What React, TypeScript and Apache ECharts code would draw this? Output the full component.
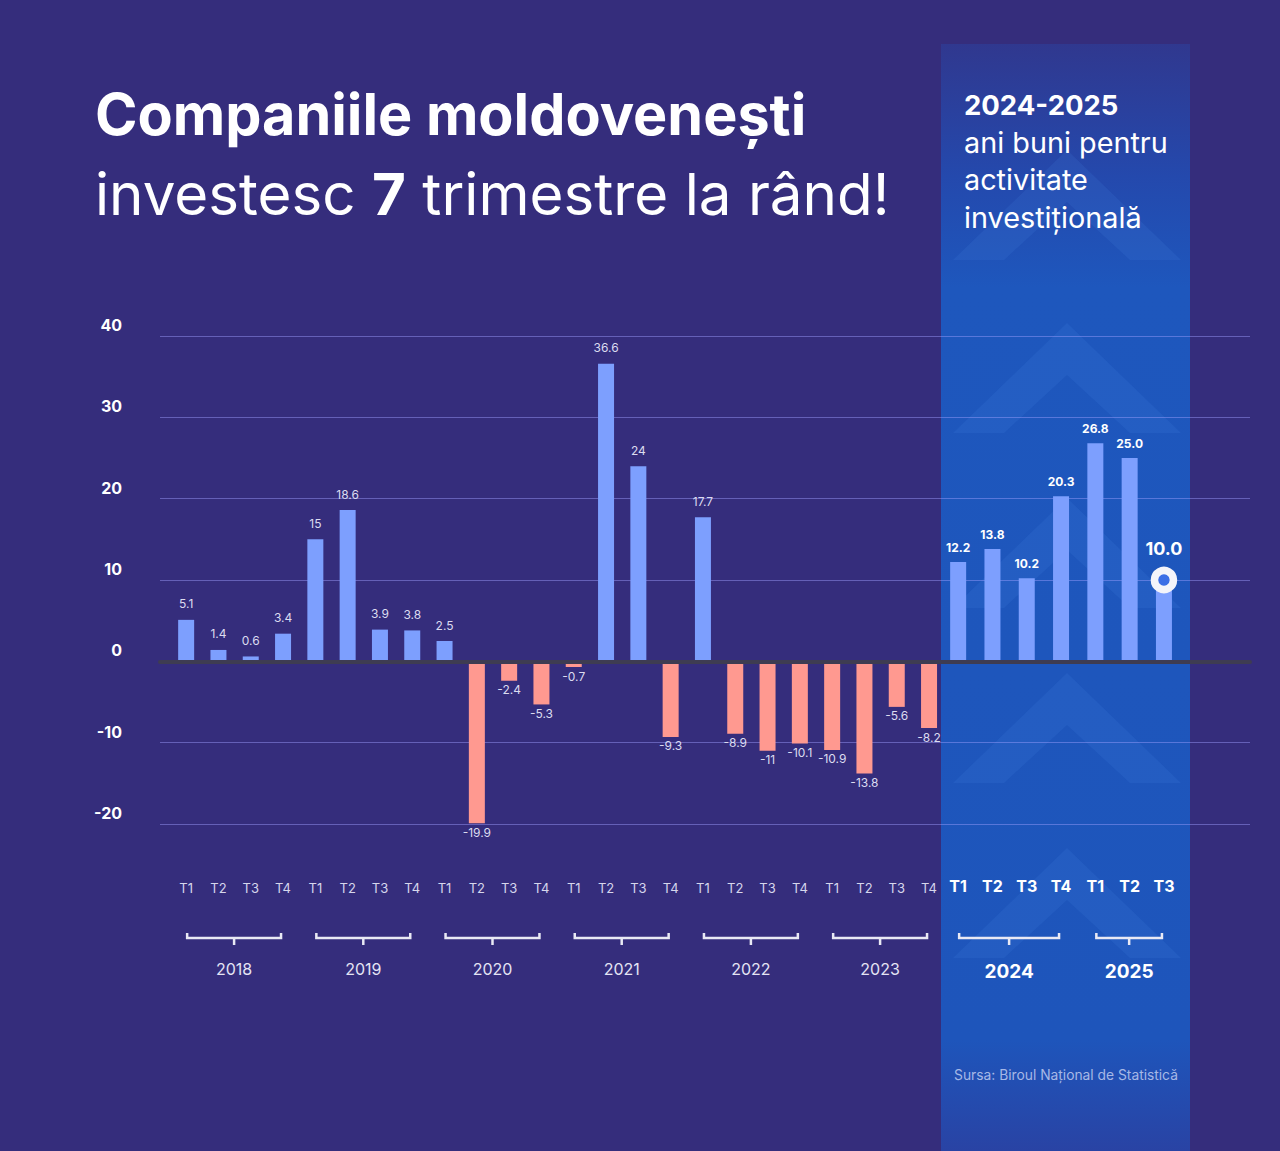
import React, { useEffect, useRef } from "react";
import * as echarts from "echarts";

const quarters = ["T1", "T2", "T3", "T4"];
const pastYears = ["2018", "2019", "2020", "2021", "2022", "2023"];
const pastValues = [
  5.1, 1.4, 0.6, 3.4,
  15, 18.6, 3.9, 3.8,
  2.5, -19.9, -2.4, -5.3,
  -0.7, 36.6, 24, -9.3,
  17.7, -8.9, -11, -10.1,
  -10.9, -13.8, -5.6, -8.2,
];
const recentYears = ["2024", "2025"];
const recentQuarters = ["T1", "T2", "T3", "T4", "T1", "T2", "T3"];
const recentQuarterYear = ["2024", "2024", "2024", "2024", "2025", "2025", "2025"];
const recentValues = [12.2, 13.8, 10.2, 20.3, 26.8, 25.0, 10.0];
const yMin = -20;
const yMax = 40;
const yStep = 10;

const pastCategories = pastYears.flatMap((y) => quarters.map((q) => `${q} ${y}`));
const recentCategories = recentQuarters.map((q, i) => `${q} ${recentQuarterYear[i]}`);
const pastBrackets = pastYears.map((_, i) => [i * 4, i * 4 + 3, 0]);
const recentBrackets = [
  [0, 3, 0],
  [4, 6, 0],
];

const BG = "#352d7c";
const POS = "#7d9ffe";
const NEG = "#ff9990";
const FONT = "Inter";

function bracketRenderer(names: string[], bold: boolean) {
  return (params: any, api: any) => {
    const s = api.coord([api.value(0), 0]);
    const e = api.coord([api.value(1), 0]);
    const bottom = api.coord([api.value(0), yMin])[1];
    const x1 = s[0] + 1;
    const x2 = e[0] - 2;
    const y = bottom + 114;
    const mid = (x1 + x2) / 2;
    const stroke = "#e9e9f4";
    return {
      type: "group",
      children: [
        {
          type: "polyline",
          shape: { points: [[x1, y - 5], [x1, y], [x2, y], [x2, y - 5]] },
          style: { stroke, lineWidth: 2.5, fill: null },
        },
        {
          type: "line",
          shape: { x1: mid, y1: y, x2: mid, y2: y + 7 },
          style: { stroke, lineWidth: 2.5 },
        },
        {
          type: "text",
          x: mid,
          y: bottom + (bold ? 147 : 145),
          style: {
            text: names[params.dataIndex],
            fill: bold ? "#ffffff" : "#e4e4f4",
            fontSize: bold ? 19 : 16,
            fontWeight: bold ? "bold" : "normal",
            fontFamily: FONT,
            align: "center",
            verticalAlign: "middle",
          },
        },
      ],
    };
  };
}

function chevron(apexY: number) {
  const cx = 1067;
  return {
    type: "polygon",
    z: -5,
    silent: true,
    shape: {
      points: [
        [953, apexY + 110],
        [cx, apexY],
        [1181, apexY + 110],
        [1130, apexY + 110],
        [cx, apexY + 52],
        [1004, apexY + 110],
      ],
    },
    style: { fill: "rgba(80,150,240,0.12)" },
  };
}

export default function App() {
  const ref = useRef<HTMLDivElement>(null);

  useEffect(() => {
    if (!ref.current) return;
    const chart = echarts.init(ref.current, null, { renderer: "svg" });

    const gridTop = 336;
    const gridHeight = 488;

    const pastData = pastValues.map((v) => ({
      value: v,
      itemStyle: { color: v >= 0 ? POS : NEG },
      label: v >= 0 ? { position: "top", distance: 10 } : { position: "bottom", distance: 3 },
    }));

    const recentData = recentValues.map((v, i) => ({
      value: v,
      label: i === recentValues.length - 1 ? { show: false } : {},
    }));

    const option: any = {
      animation: false,
      backgroundColor: BG,
      grid: [
        { left: 160, right: 30, top: gridTop, height: gridHeight },
        { left: 170, width: 775.2, top: gridTop, height: gridHeight },
        { left: 941, width: 240.1, top: gridTop, height: gridHeight },
      ],
      xAxis: [
        {
          gridIndex: 0,
          type: "value",
          min: 0,
          max: 1,
          z: 5,
          axisLine: { show: true, onZero: true, lineStyle: { color: "#3e3c52", width: 4 } },
          axisTick: { show: false },
          axisLabel: { show: false },
          splitLine: { show: false },
        },
        {
          gridIndex: 1,
          type: "category",
          data: pastCategories,
          axisLine: { show: false, onZero: false },
          axisTick: { show: false },
          axisLabel: {
            margin: 57,
            interval: 0,
            color: "#d6d6ec",
            fontSize: 13,
            fontFamily: FONT,
            formatter: (v: string) => v.split(" ")[0],
          },
        },
        {
          gridIndex: 2,
          type: "category",
          data: recentCategories,
          axisLine: { show: false, onZero: false },
          axisTick: { show: false },
          axisLabel: {
            margin: 54,
            interval: 0,
            color: "#ffffff",
            fontSize: 16,
            fontWeight: "bold",
            fontFamily: FONT,
            formatter: (v: string) => v.split(" ")[0],
          },
        },
      ],
      yAxis: [
        {
          gridIndex: 0,
          type: "value",
          min: yMin,
          max: yMax,
          interval: yStep,
          axisLine: { show: false },
          axisTick: { show: false },
          axisLabel: {
            color: "#ffffff",
            fontWeight: "bold",
            fontSize: 16,
            fontFamily: FONT,
            margin: 38,
            align: "right",
            verticalAlign: "bottom",
            padding: [0, 0, 3, 0],
          },
          splitLine: { lineStyle: { color: "rgba(160,160,255,0.45)", width: 1 } },
        },
        { gridIndex: 1, type: "value", min: yMin, max: yMax, interval: yStep, show: false, splitLine: { show: false } },
        { gridIndex: 2, type: "value", min: yMin, max: yMax, interval: yStep, show: false, splitLine: { show: false } },
      ],
      graphic: [
        {
          type: "rect",
          z: -10,
          silent: true,
          shape: { x: 941, y: 44, width: 249, height: 1107 },
          style: {
            fill: new echarts.graphic.LinearGradient(0, 0, 0, 1, [
              { offset: 0, color: "#30388f" },
              { offset: 0.12, color: "#2449ad" },
              { offset: 0.22, color: "#1e57bd" },
              { offset: 0.9, color: "#1e55bb" },
              { offset: 1, color: "#2943a4" },
            ]),
          },
        },
        chevron(150),
        chevron(323),
        chevron(498),
        chevron(673),
        chevron(848),
        {
          type: "text",
          x: 95,
          y: 114,
          style: {
            text: "Companiile moldovenești",
            fill: "#ffffff",
            fontSize: 57.5,
            fontWeight: "bold",
            fontFamily: FONT,
            verticalAlign: "middle",
          },
        },
        {
          type: "text",
          x: 95,
          y: 194,
          style: {
            text: "investesc {b|7} trimestre la rând!",
            fill: "#ffffff",
            fontSize: 58.3,
            fontFamily: FONT,
            verticalAlign: "middle",
            rich: {
              b: { fontSize: 58.3, fontWeight: "bold", fill: "#ffffff", fontFamily: FONT },
            },
          },
        },
        {
          type: "text",
          x: 964,
          y: 105,
          style: {
            text: "2024-2025",
            fill: "#ffffff",
            fontSize: 27.5,
            fontWeight: "bold",
            fontFamily: FONT,
            verticalAlign: "middle",
          },
        },
        ...["ani buni pentru", "activitate", "investițională"].map((t, i) => ({
          type: "text",
          x: 964,
          y: 142 + i * 37.5,
          style: {
            text: t,
            fill: "#ffffff",
            fontSize: 28.8,
            fontFamily: FONT,
            verticalAlign: "middle",
          },
        })),
        {
          type: "text",
          x: 1066,
          y: 1075,
          style: {
            text: "Sursa: Biroul Național de Statistică",
            fill: "#a6b8e6",
            fontSize: 13.8,
            fontFamily: FONT,
            align: "center",
            verticalAlign: "middle",
          },
        },
      ],
      series: [
        {
          type: "bar",
          xAxisIndex: 1,
          yAxisIndex: 1,
          data: pastData,
          barWidth: 16,
          label: {
            show: true,
            color: "#dcdcf0",
            fontSize: 12,
            fontFamily: FONT,
          },
        },
        {
          type: "bar",
          xAxisIndex: 2,
          yAxisIndex: 2,
          data: recentData,
          barWidth: 16,
          itemStyle: { color: POS },
          label: {
            show: true,
            position: "top",
            distance: 9,
            color: "#ffffff",
            fontSize: 12,
            fontWeight: "bold",
            fontFamily: FONT,
            formatter: (p: any) => Number(p.value).toFixed(1),
          },
          markPoint: {
            symbol: "circle",
            symbolSize: 19,
            itemStyle: { color: "#3b6ee6", borderColor: "#f4f4fa", borderWidth: 7.5 },
            label: {
              show: true,
              position: "top",
              distance: 9,
              color: "#ffffff",
              fontSize: 18,
              fontWeight: "bold",
              fontFamily: FONT,
              formatter: (p: any) => Number(p.value).toFixed(1),
            },
            data: [
              {
                coord: [recentCategories[recentCategories.length - 1], recentValues[recentValues.length - 1]],
                value: recentValues[recentValues.length - 1],
              },
            ],
          },
        },
        {
          type: "custom",
          xAxisIndex: 1,
          yAxisIndex: 1,
          silent: true,
          clip: false,
          encode: { x: [0, 1], y: 2 },
          data: pastBrackets,
          renderItem: bracketRenderer(pastYears, false),
        },
        {
          type: "custom",
          xAxisIndex: 2,
          yAxisIndex: 2,
          silent: true,
          clip: false,
          encode: { x: [0, 1], y: 2 },
          data: recentBrackets,
          renderItem: bracketRenderer(recentYears, true),
        },
      ],
    };

    chart.setOption(option);
    return () => chart.dispose();
  }, []);

  return (
    <div
      ref={ref}
      style={{ position: "absolute", left: 0, top: 0, width: 1280, height: 1151 }}
    />
  );
}
